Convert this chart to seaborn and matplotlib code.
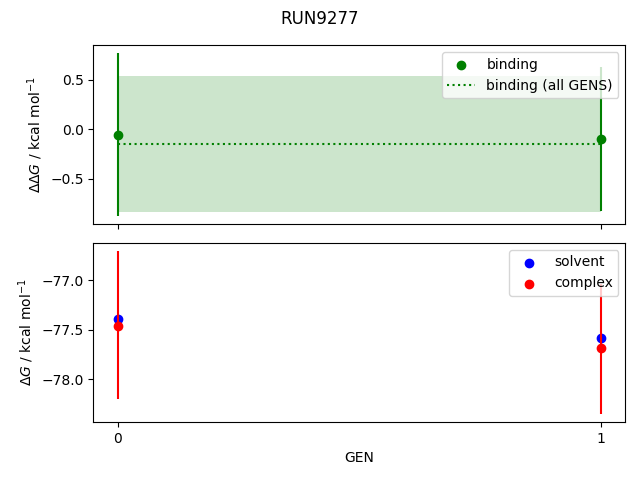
import numpy as np
import pandas as pd
import matplotlib
matplotlib.use("Agg")
import matplotlib.pyplot as plt
import seaborn as sns

# ============================================================
# DONNÉES
# ============================================================

gens = [0, 1]

binding = [-0.061, -0.102]
binding_err_low = [0.818, 0.730]
binding_err_high = [0.828, 0.726]
binding_all = -0.150
binding_all_err = 0.687

solvent = [-77.395, -77.580]
solvent_err = [0.02, 0.02]
complex_ = [-77.460, -77.680]
complex_err_low = [0.745, 0.670]
complex_err_high = [0.755, 0.640]

df = pd.DataFrame({
    "GEN": gens,
    "binding": binding,
    "solvent": solvent,
    "complex": complex_,
})

# ============================================================
# FIGURE
# ============================================================

fig, (ax1, ax2) = plt.subplots(2, 1, sharex=True, figsize=(6.4, 4.8), dpi=100)
fig.suptitle("RUN9277")

# --- panneau haut : binding
ax1.errorbar(df["GEN"], df["binding"],
             yerr=[binding_err_low, binding_err_high],
             fmt="none", ecolor="green", elinewidth=1.5)
sns.scatterplot(data=df, x="GEN", y="binding", color="green", s=36,
                edgecolor="green", linewidth=1, label="binding", ax=ax1)
ax1.plot([gens[0], gens[-1]], [binding_all, binding_all], ":", color="green",
         label="binding (all GENS)")
ax1.fill_between([gens[0], gens[-1]],
                 binding_all - binding_all_err, binding_all + binding_all_err,
                 color="green", alpha=0.2, linewidth=0)
ax1.set_ylabel(r"$\Delta\Delta G$ / kcal mol$^{-1}$")
ax1.set_xlabel("")
ax1.legend(loc="upper right")

# --- panneau bas : solvent / complex
ax2.errorbar(df["GEN"], df["solvent"], yerr=solvent_err,
             fmt="none", ecolor="blue", elinewidth=1.5)
ax2.errorbar(df["GEN"], df["complex"],
             yerr=[complex_err_low, complex_err_high],
             fmt="none", ecolor="red", elinewidth=1.5)
sns.scatterplot(data=df, x="GEN", y="solvent", color="blue", s=36,
                edgecolor="blue", linewidth=1, label="solvent", ax=ax2)
sns.scatterplot(data=df, x="GEN", y="complex", color="red", s=36,
                edgecolor="red", linewidth=1, label="complex", ax=ax2)
ax2.set_ylabel(r"$\Delta G$ / kcal mol$^{-1}$")
ax2.set_xlabel("GEN")
ax2.set_xticks(gens)
ax2.legend(loc="upper right")

fig.subplots_adjust(left=0.146, right=0.977, top=0.906, bottom=0.121, hspace=0.105)
plt.savefig("out.png", dpi=100)
plt.close()
